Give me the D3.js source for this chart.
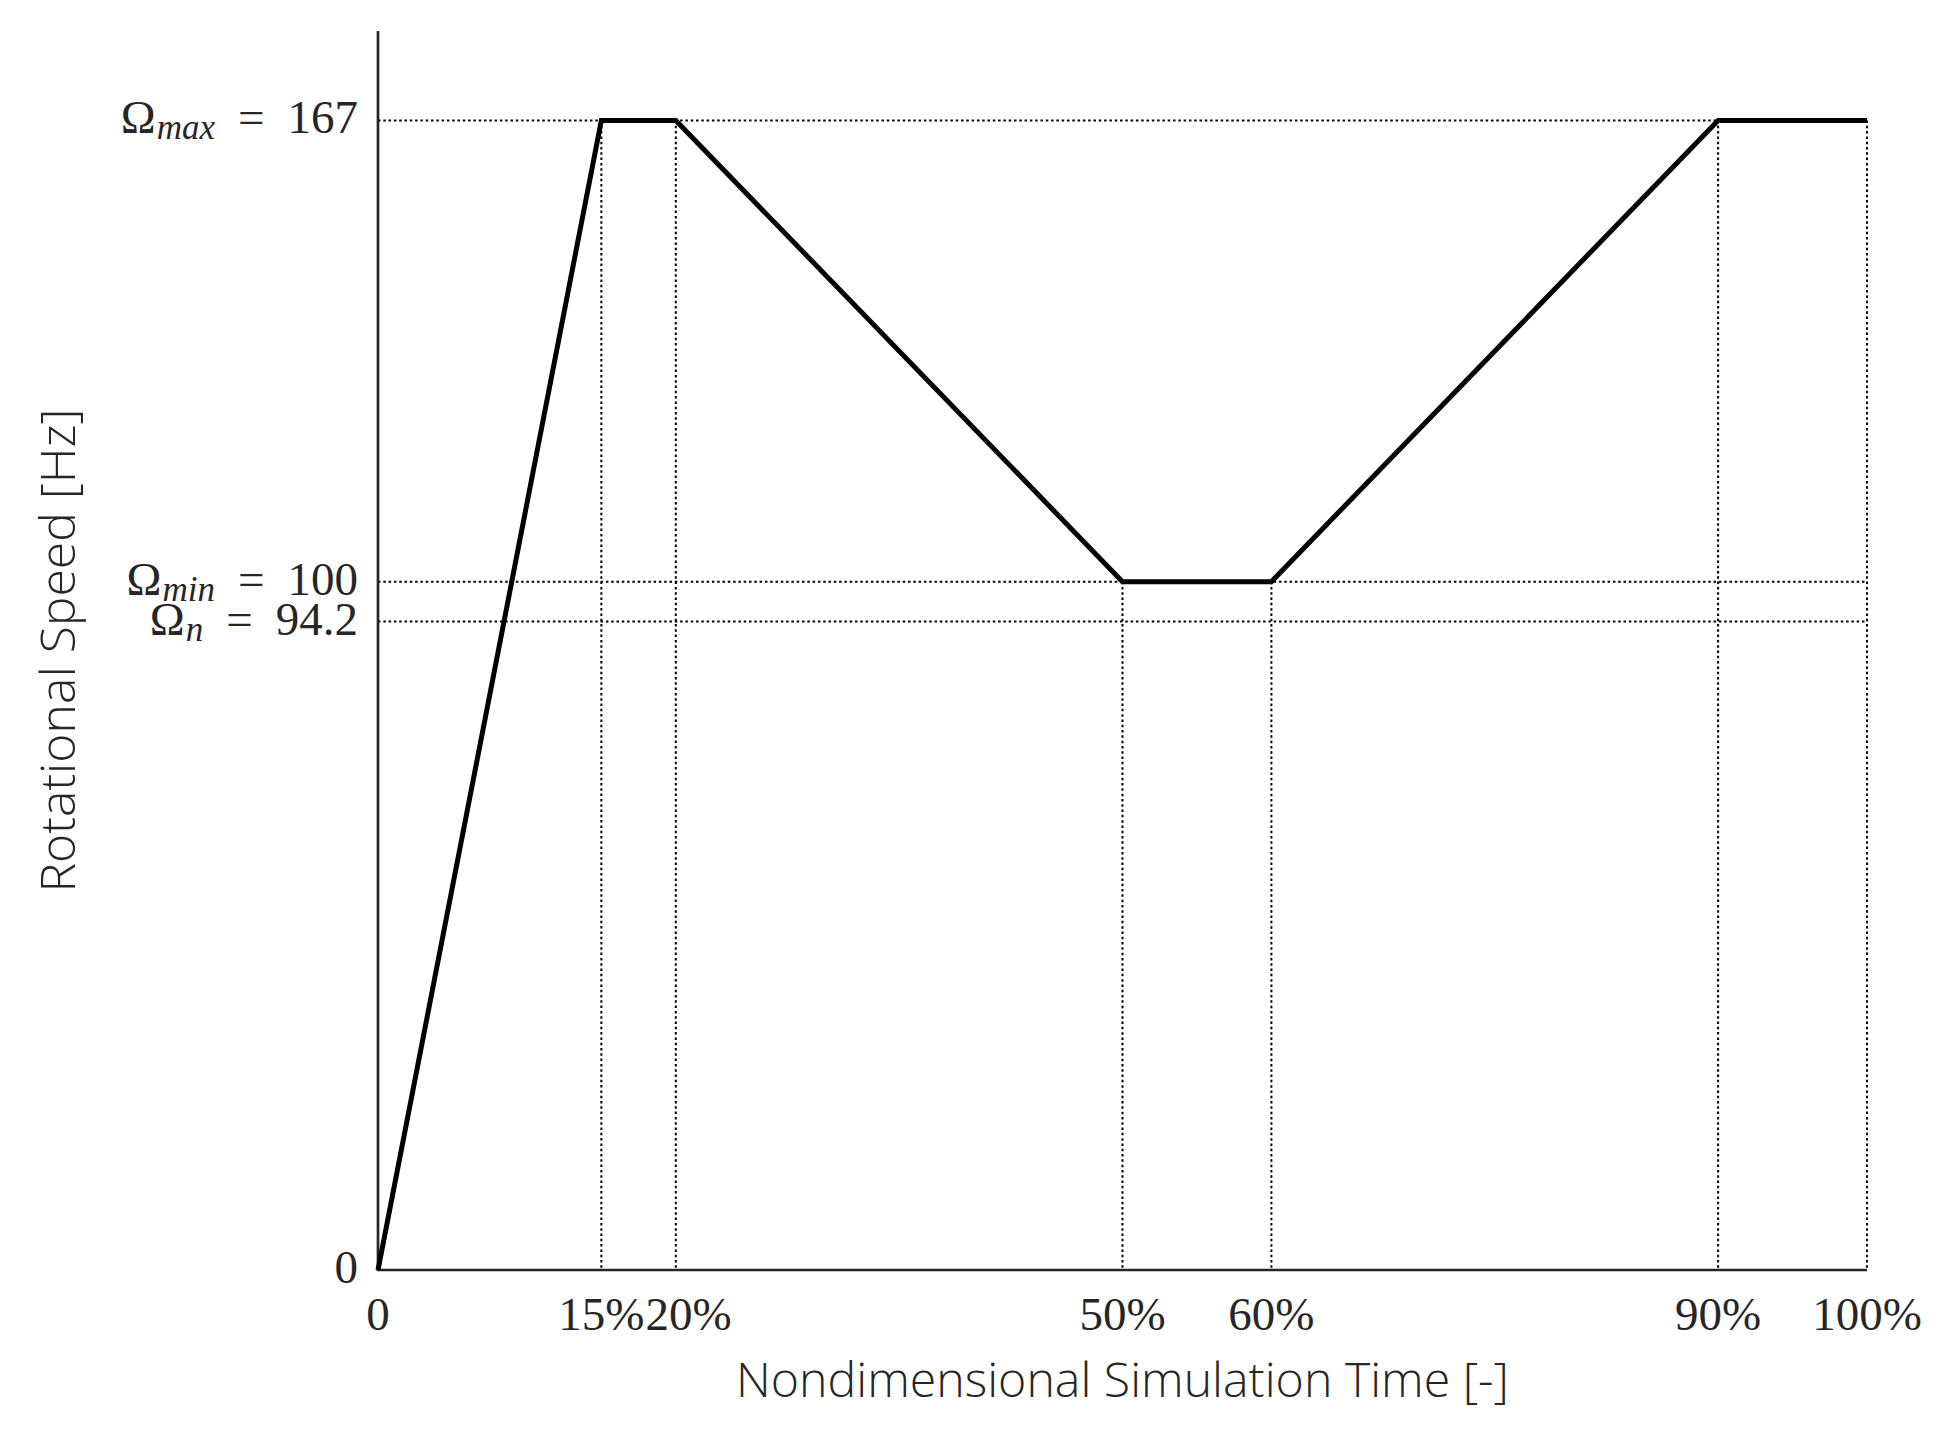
<!DOCTYPE html>
<html>
<head>
<meta charset="utf-8">
<script src="https://cdn.jsdelivr.net/npm/d3@7"></script>
<style>
  html, body { margin: 0; padding: 0; background: #fff; }
  svg { display: block; }
</style>
</head>
<body>
<div id="chart"></div>
<script>
// ---- data ----
const timePct = [0, 15, 20, 50, 60, 90, 100];
const speedHz = [0, 167, 167, 100, 100, 167, 167];
const xTickValues = [0, 15, 20, 50, 60, 90, 100];
const xTickLabels = ["0", "15%", "20%", "50%", "60%", "90%", "100%"];
const yTickValues = [0, 94.2, 100, 167];
const yTickSym = ["", "n", "min", "max"];
const yTickNums = ["0", "94.2", "100", "167"];
const hRefValues = [167, 100, 94.2];
const xTitle = "Nondimensional Simulation Time [-]";
const yTitle = "Rotational Speed [Hz]";

(function () {
  // ---- layout ----
  const W = 1947, H = 1440;
  const plotL = 378, plotR = 1867, plotT = 31, plotB = 1270;
  const ink = "#262626";

  const svg = d3.select("#chart").append("svg")
    .attr("width", W).attr("height", H);

  const x = d3.scaleLinear().domain([0, 100]).range([plotL, plotR]);
  const y = d3.scaleLinear().domain([0, 180]).range([plotB, plotT]);

  const pts = timePct.map((t, i) => ({ t, v: speedHz[i] }));
  const valueAt = t => pts.find(p => p.t === t).v;

  // horizontal dotted reference lines
  svg.append("g").selectAll("line").data(hRefValues).join("line")
    .attr("x1", x(0)).attr("x2", x(100))
    .attr("y1", d => y(d)).attr("y2", d => y(d))
    .attr("stroke", "#000").attr("stroke-width", 2)
    .attr("stroke-dasharray", "2.5,2.8");

  // vertical dotted reference lines (from the curve down to the axis)
  svg.append("g").selectAll("line").data(xTickValues.filter(d => d > 0)).join("line")
    .attr("x1", d => x(d)).attr("x2", d => x(d))
    .attr("y1", d => y(valueAt(d))).attr("y2", y(0))
    .attr("stroke", "#000").attr("stroke-width", 2)
    .attr("stroke-dasharray", "2.5,2.8");

  // axes lines
  svg.append("line")
    .attr("x1", x(0)).attr("x2", x(0)).attr("y1", y(180)).attr("y2", y(0))
    .attr("stroke", ink).attr("stroke-width", 2.7);
  svg.append("line")
    .attr("x1", x(0) - 1.35).attr("x2", x(100)).attr("y1", y(0)).attr("y2", y(0))
    .attr("stroke", ink).attr("stroke-width", 2.7);

  // main line
  const line = d3.line().x(d => x(d.t)).y(d => y(d.v));
  svg.append("path").datum(pts)
    .attr("d", line)
    .attr("fill", "none").attr("stroke", "#000")
    .attr("stroke-width", 5).attr("stroke-linejoin", "miter");

  // x tick labels
  const serif = "'Liberation Serif', 'Times New Roman', serif";
  const xl = svg.append("g").selectAll("text").data(xTickValues).join("text")
    .attr("x", d => x(d)).attr("y", 1330)
    .attr("text-anchor", "middle")
    .attr("font-family", serif).attr("font-size", 47)
    .attr("fill", ink)
    .text((d, i) => xTickLabels[i]);
  // push touching labels apart (as in the reference, "15%20%")
  let prevRight = -Infinity;
  xl.each(function () {
    const bb = this.getBBox();
    if (bb.x < prevRight + 1) {
      const shift = prevRight + 1 - bb.x;
      d3.select(this).attr("x", +d3.select(this).attr("x") + shift);
      prevRight = bb.x + bb.width + shift;
    } else {
      prevRight = bb.x + bb.width;
    }
  });

  // y tick labels
  const yg = svg.append("g");
  yTickValues.forEach((v, i) => {
    const t = yg.append("text")
      .attr("x", 358).attr("y", y(v) + 13)
      .attr("text-anchor", "end")
      .attr("font-family", serif).attr("font-size", 47)
      .attr("fill", ink);
    if (yTickSym[i]) {
      t.append("tspan").text("\u03A9");
      t.append("tspan").attr("font-size", 35).attr("font-style", "italic")
        .attr("dy", 6).attr("dx", 1).text(yTickSym[i]);
      t.append("tspan").attr("dy", -6).attr("dx", 23).text("=");
      t.append("tspan").attr("dx", 23).text(yTickNums[i]);
    } else {
      t.text(yTickNums[i]);
    }
  });

  // axis titles
  const sans = "'Open Sans', 'Noto Sans', sans-serif";
  svg.append("text")
    .attr("x", (x(0) + x(100)) / 2).attr("y", 1397)
    .attr("text-anchor", "middle")
    .attr("font-family", sans).attr("font-weight", 300).attr("font-size", 47)
    .attr("fill", ink)
    .attr("textLength", 773).attr("lengthAdjust", "spacingAndGlyphs")
    .text(xTitle);

  svg.append("text")
    .attr("transform", `translate(75, ${(y(0) + y(180)) / 2}) rotate(-90)`)
    .attr("text-anchor", "middle")
    .attr("font-family", sans).attr("font-weight", 300).attr("font-size", 47)
    .attr("fill", ink)
    .attr("textLength", 484).attr("lengthAdjust", "spacingAndGlyphs")
    .text(yTitle);
})();
</script>
</body>
</html>
